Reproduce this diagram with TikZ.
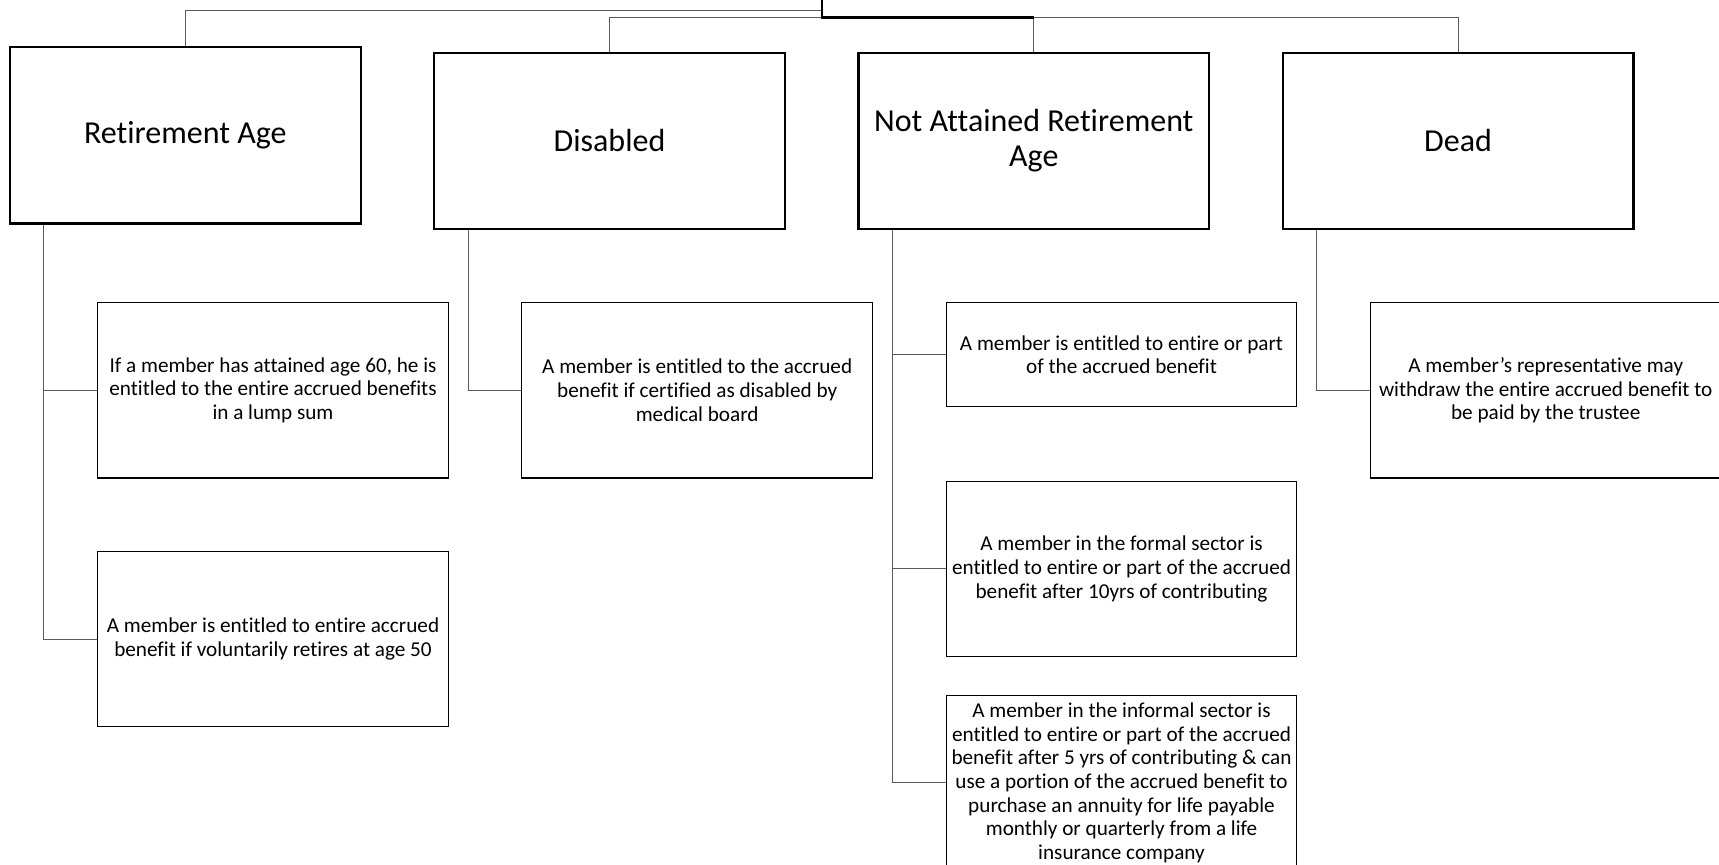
\documentclass[tikz,border=0pt]{standalone}
\usepackage{fontspec}
\setmainfont{Carlito}[Ligatures={NoCommon}]
\usetikzlibrary{positioning}
\definecolor{linkcolor}{RGB}{90, 90, 90}

\begin{document}
\begin{tikzpicture}[
  x = 0.5pt,
  y = -0.5pt,
  topbox/.style = {
    rectangle,
    draw = black,
    line width = 1.1pt,
    minimum width = 175.4pt,
    minimum height = 88.2pt,
    inner sep = 2pt,
    align = center,
    font = \fontsize{16pt}{17.5pt}\selectfont
  },
  leafbox/.style = {
    rectangle,
    draw = black,
    line width = 0.55pt,
    minimum width = 175.4pt,
    minimum height = 87.7pt,
    inner sep = 1pt,
    align = center,
    font = \fontsize{10.6pt}{11.8pt}\selectfont
  },
  link/.style = {
    draw = linkcolor,
    line width = 0.5pt
  }
]
\useasboundingbox (0,0) rectangle (1719,865);
\clip (0,0) rectangle (1719,865);

% Nodes
\node[topbox] (retire) at (185.3,135.4) {Retirement Age};
\node[topbox] (disabled) at (609.5,140.9) {Disabled};
\node[topbox] (notattained) at (1033.8,140.9) {Not Attained Retirement\\Age};
\node[topbox] (dead) at (1458.1,140.9) {Dead};

\node[leafbox] (lumpsum) at (273,390.3) {If a member has attained age 60, he is\\entitled to the entire accrued benefits\\in a lump sum};
\node[leafbox] (voluntary) at (273,639.1) {A member is entitled to entire accrued\\benefit if voluntarily retires at age 50};
\node[leafbox] (medical) at (697.2,390.3) {A member is entitled to the accrued\\benefit if certified as disabled by\\medical board};
\node[leafbox, minimum height = 52pt] (partbenefit) at (1121.5,354.6) {A member is entitled to entire or part\\of the accrued benefit};
\node[leafbox] (formal) at (1121.5,569) {A member in the formal sector is\\entitled to entire or part of the accrued\\benefit after 10yrs of contributing};
\node[leafbox] (informal) at (1121.5,782.8) {A member in the informal sector is\\entitled to entire or part of the accrued\\benefit after 5 yrs of contributing \& can\\use a portion of the accrued benefit to\\purchase an annuity for life payable\\monthly or quarterly from a life\\insurance company};
\node[leafbox] (trustee) at (1545.7,390.3) {A member’s representative may\\withdraw the entire accrued benefit to\\be paid by the trustee};

\coordinate (hubA) at (822,11);
\coordinate (hubB) at (822,17.5);

% Arrows
\draw[link] (retire.north) |- (hubA);
\draw[link] (disabled.north) |- (hubB);
\draw[link] (notattained.north) |- (hubB);
\draw[link] (dead.north) |- (hubB);
\draw[line width = 1.1pt] (822,0) -- (hubB) -- (notattained.north |- hubB);

\draw[link] ([xshift=17.5pt]retire.south west) |- (lumpsum.west);
\draw[link] ([xshift=17.5pt]retire.south west) |- (voluntary.west);
\draw[link] ([xshift=17.5pt]disabled.south west) |- (medical.west);
\draw[link] ([xshift=17.5pt]notattained.south west) |- (partbenefit.west);
\draw[link] ([xshift=17.5pt]notattained.south west) |- (formal.west);
\draw[link] ([xshift=17.5pt]notattained.south west) |- (informal.west);
\draw[link] ([xshift=17.5pt]dead.south west) |- (trustee.west);

\end{tikzpicture}
\end{document}
